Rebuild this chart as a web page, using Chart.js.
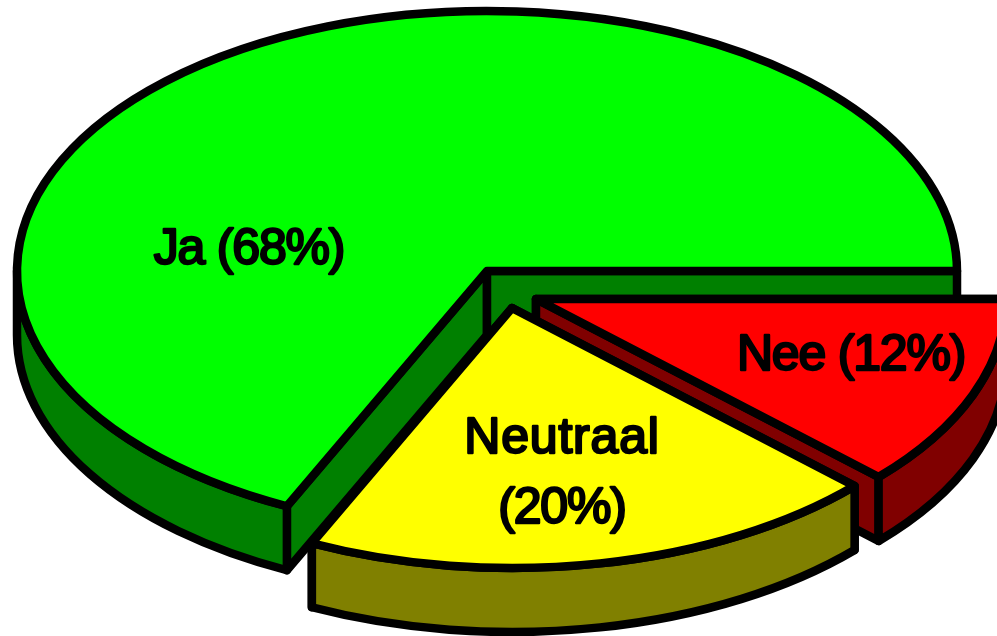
<!DOCTYPE html>
<html>
<head>
<meta charset="utf-8">
<title>Pie</title>
<style>
  html, body { margin: 0; padding: 0; background: #fff; overflow: hidden; }
  canvas { display: block; }
</style>
<script src="https://cdn.jsdelivr.net/npm/chart.js@4/dist/chart.umd.js"></script>
</head>
<body>
<canvas id="pie" width="997" height="636"></canvas>
<script>
const categories = ['Ja', 'Nee', 'Neutraal'];
const shares = [68, 12, 20];

const topColors = ['#00ff00', '#ff0000', '#ffff00'];
const sideColors = ['#008000', '#800000', '#808000'];

// how far each slice is pulled out of the pie, in px on screen
const sliceShift = [[0, 0], [49, 28], [25, 37]];
// label centres relative to the pie centre
const labelAt = [[-238, -21], [364, 85], [75, 203]];

const squashX = 470 / 271;
const squashY = 260 / 271;
const depth = 64;
const TWO_PI = Math.PI * 2;

function pointOn(cx, cy, rx, ry, angle) {
    return [cx + rx * Math.cos(angle), cy + ry * Math.sin(angle)];
}

function paint(ctx, fill) {
    ctx.fillStyle = fill;
    ctx.fill();
    ctx.stroke();
}

function drawFace(ctx, cx, cy, rx, ry, angle, fill) {
    const p = pointOn(cx, cy, rx, ry, angle);
    ctx.beginPath();
    ctx.moveTo(cx, cy);
    ctx.lineTo(p[0], p[1]);
    ctx.lineTo(p[0], p[1] + depth);
    ctx.lineTo(cx, cy + depth);
    ctx.closePath();
    paint(ctx, fill);
}

const pie3d = {
    id: 'pie3d',
    beforeDatasetsDraw(chart) {
        const ctx = chart.ctx;
        const arcs = chart.getDatasetMeta(0).data;
        ctx.save();
        ctx.lineWidth = 8.5;
        ctx.strokeStyle = '#000';
        ctx.lineJoin = 'round';
        ctx.lineCap = 'round';

        arcs.forEach((arc, i) => {
            const sweep = arc.endAngle - arc.startAngle;
            let start = ((arc.startAngle % TWO_PI) + TWO_PI) % TWO_PI;
            if (TWO_PI - start < 1e-6) start = 0;
            const end = start + sweep;
            const cx = arc.x + sliceShift[i][0];
            const cy = arc.y + sliceShift[i][1];
            const rx = arc.outerRadius * squashX;
            const ry = arc.outerRadius * squashY;

            drawFace(ctx, cx, cy, rx, ry, start, sideColors[i]);
            drawFace(ctx, cx, cy, rx, ry, end, sideColors[i]);

            // rim, only the part that faces the viewer
            const rimEnd = Math.min(end, Math.PI);
            if (rimEnd > start) {
                ctx.beginPath();
                ctx.ellipse(cx, cy, rx, ry, 0, start, rimEnd);
                ctx.ellipse(cx, cy + depth, rx, ry, 0, rimEnd, start, true);
                ctx.closePath();
                paint(ctx, sideColors[i]);
            }

            ctx.beginPath();
            ctx.moveTo(cx, cy);
            ctx.ellipse(cx, cy, rx, ry, 0, start, end);
            ctx.closePath();
            paint(ctx, topColors[i]);
        });

        // labels
        ctx.fillStyle = '#000';
        ctx.lineWidth = 2.4;
        ctx.font = '50px "Liberation Sans", Arial, sans-serif';
        ctx.textAlign = 'center';
        ctx.textBaseline = 'middle';
        arcs.forEach((arc, i) => {
            const x = arc.x + labelAt[i][0];
            const y = arc.y + labelAt[i][1];
            const pct = '(' + shares[i] + '%)';
            const lines = categories[i] === 'Neutraal'
                ? [categories[i], pct]
                : [categories[i] + ' ' + pct];
            lines.forEach((text, n) => {
                const ty = y + (n - (lines.length - 1) / 2) * 70;
                ctx.letterSpacing = text === 'Neutraal' ? '0.8px' : '-1.2px';
                ctx.strokeText(text, x, ty);
                ctx.fillText(text, x, ty);
            });
        });
        ctx.restore();
        return false;
    }
};

new Chart(document.getElementById('pie'), {
    type: 'pie',
    data: {
        labels: categories,
        datasets: [{
            data: shares,
            backgroundColor: topColors,
            borderWidth: 0
        }]
    },
    options: {
        responsive: false,
        animation: false,
        rotation: 205.2,
        layout: { padding: { right: 23, bottom: 94 } },
        plugins: {
            legend: { display: false },
            tooltip: { enabled: false }
        }
    },
    plugins: [pie3d]
});
</script>
</body>
</html>
